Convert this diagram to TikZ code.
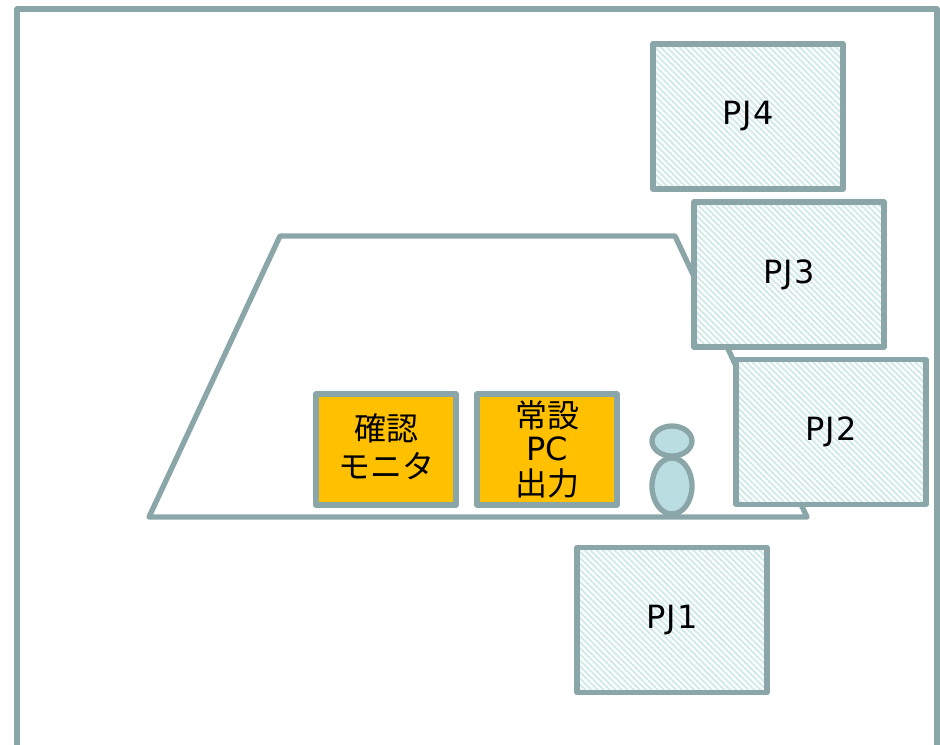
\documentclass[tikz,border=0pt]{standalone}
\usepackage{fontspec}
\setmainfont{DejaVu Sans}
\newfontfamily\cjk{Noto Sans CJK JP}
\newfontfamily\pjfont[LetterSpace=4]{DejaVu Sans}
\usetikzlibrary{patterns.meta,shapes.geometric}
\definecolor{edge}{HTML}{8BA6A8}
\definecolor{hatch}{HTML}{D3EAEB}
\definecolor{amber}{HTML}{FFC000}
\definecolor{skin}{HTML}{B9DDE1}
\tikzset{
  x=0.75pt,y=-0.75pt,
  outline/.style={draw=edge,line width=4pt,line join=round},
  pjbox/.style={outline,rectangle,minimum width=142.5pt,minimum height=108.75pt,inner sep=0pt,
    preaction={fill=white},pattern={Lines[angle=-45,distance=3.2pt,line width=1.5pt]},pattern color=hatch,
    font=\pjfont\fontsize{24pt}{28pt}\selectfont,text=black},
  infobox/.style={outline,rectangle,minimum width=105pt,minimum height=83.25pt,inner sep=0pt,
    fill=amber,align=center,text=black},
  person/.style={outline,ellipse,fill=skin,inner sep=0pt}
}
\begin{document}
\begin{tikzpicture}
\useasboundingbox (0,0) rectangle (940,744);
\fill[white] (0,0) rectangle (940,744);
\draw[outline] (17,760) |- (937,9) -- (937,760);
\coordinate (a) at (149,517);
\coordinate (b) at (280,236);
\coordinate (c) at (675,236);
\coordinate (d) at (807,517);
\draw[outline] (a) -- (b) -- (c) -- (d) -- cycle;
\node[pjbox] (pjone) at (672,620) {PJ1};
\node[pjbox] (pjtwo) at (831,432) {PJ2};
\node[pjbox] (pjthree) at (789,274.5) {PJ3};
\node[pjbox] (pjfour) at (748,116.5) {PJ4};
\node[infobox,font=\fontsize{24pt}{28.5pt}\selectfont] (mon) at (386,449.5) {\raisebox{5pt}{\cjk 確認}\\\raisebox{5pt}{\cjk モニタ}};
\node[infobox,font=\fontsize{24pt}{26.25pt}\selectfont] (pc) at (547,449.5) {\raisebox{-2pt}{\cjk 常設}\\\raisebox{-1pt}{PC}\\\raisebox{-1pt}{\cjk 出力}};
\node[person,minimum width=30pt,minimum height=22.5pt] (head) at (672,441) {};
\node[person,minimum width=30pt,minimum height=42pt] (body) at (672,486) {};
\end{tikzpicture}
\end{document}
